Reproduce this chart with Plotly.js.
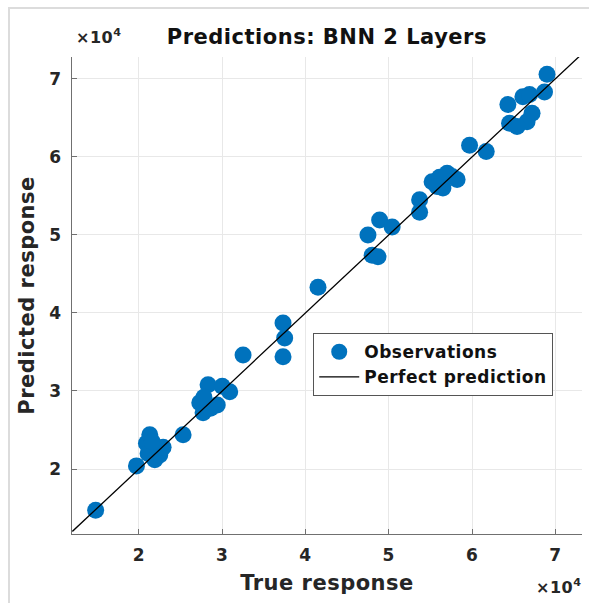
<!DOCTYPE html>
<html>
<head>
<meta charset="utf-8">
<script src="https://cdn.plot.ly/plotly-3.0.1.min.js"></script>
<style>
  html, body { margin: 0; padding: 0; background: #fff; }
  #wrap { position: relative; width: 589px; height: 603px; }
  #frame { position: absolute; left: 8px; top: 7px; width: 581px; height: 596px;
           border-top: 2px solid #dcdcdc; border-left: 2px solid #dcdcdc; box-sizing: border-box; pointer-events: none; z-index: 5; }
  #chart { position: absolute; left: 0; top: 0; width: 589px; height: 603px; }
  svg text { letter-spacing: 0.5px; }
</style>
</head>
<body>
<div id="wrap">
  <div id="chart"></div>
  <div id="frame"></div>
</div>
<script>
// Values in units of the response (axes show ×10^4)
const trueResponse = [
  14800, 19700, 20900, 21300, 21100, 21900, 22500, 22900, 21600, 25300,
  27300, 27700, 28300, 29400, 30000, 30900, 28600, 27800, 32500, 37300,
  37500, 37300, 41500, 47500, 48900, 50400, 48000, 48700, 53700, 53700,
  55200, 56100, 57000, 56500, 58200, 57600, 59700, 61700, 64500, 64300,
  66100, 66900, 67200, 66600, 65400, 69000, 68700, 55800
];
const predictedResponse = [
  14700, 20400, 23300, 24400, 22000, 21200, 21800, 22800, 23500, 24400,
  28500, 27200, 30800, 28200, 30600, 29900, 27800, 29200, 34600, 38700,
  36800, 34400, 43300, 50000, 51900, 51000, 47400, 47200, 54500, 52900,
  56800, 57400, 57900, 56000, 57100, 57500, 61500, 60700, 64300, 66700,
  67700, 68000, 65600, 64500, 63900, 70600, 68300, 56200
];
const perfectLine = [12000, 73200];
const tickValues = [20000, 30000, 40000, 50000, 60000, 70000];
const tickLabels = ['2', '3', '4', '5', '6', '7'];

const fontFam = '"DejaVu Sans", "Liberation Sans", Arial, sans-serif';
const textColor = '#262626';

const traces = [
  {
    x: trueResponse, y: predictedResponse,
    type: 'scatter', mode: 'markers', name: 'Observations',
    marker: { color: '#0072BD', size: 17, line: { width: 0 } }
  },
  {
    x: perfectLine, y: perfectLine,
    type: 'scatter', mode: 'lines', name: 'Perfect prediction',
    line: { color: '#000000', width: 1.3 }
  }
];

const axisCommon = {
  tickvals: tickValues, ticktext: tickLabels,
  showgrid: true, gridcolor: '#e8e8e8', gridwidth: 1,
  zeroline: false, showline: true, linecolor: '#707070', linewidth: 1,
  ticks: 'inside', ticklen: 5, tickcolor: '#707070',
  tickfont: { family: fontFam, size: 17, color: textColor, weight: 'bold' },
  mirror: false
};

const layout = {
  width: 589, height: 603,
  margin: { l: 72, r: 7, t: 57, b: 69 },
  paper_bgcolor: '#ffffff', plot_bgcolor: '#ffffff',
  showlegend: true,
  title: {
    text: '<b>Predictions: BNN 2 Layers</b>',
    font: { family: fontFam, size: 21, color: '#111' },
    xref: 'container', x: 0.555, xanchor: 'center',
    yref: 'container', y: 1 - 37 / 603, yanchor: 'middle'
  },
  xaxis: Object.assign({}, axisCommon, {
    range: [11960, 73200],
    ticklabelstandoff: 6,
    title: { text: '<b>True response</b>', font: { family: fontFam, size: 21, color: textColor }, standoff: 10 }
  }),
  yaxis: Object.assign({}, axisCommon, {
    range: [11670, 72800],
    ticklabelstandoff: 6,
    title: { text: '<b>Predicted response</b>', font: { family: fontFam, size: 21, color: textColor }, standoff: 8 }
  }),
  legend: {
    x: 0.473, y: 0.421, xanchor: 'left', yanchor: 'top',
    bgcolor: '#ffffff', bordercolor: '#555', borderwidth: 1,
    font: { family: fontFam, size: 17, color: '#111', weight: 'bold' },
    tracegroupgap: 0, itemwidth: 40
  },
  annotations: [
    { text: '<b>×10<sup>4</sup></b>', xref: 'paper', yref: 'paper', x: 0.003, y: 1.042,
      xanchor: 'left', yanchor: 'middle', showarrow: false,
      font: { family: fontFam, size: 16, color: textColor } },
    { text: '<b>×10<sup>4</sup></b>', xref: 'paper', yref: 'paper', x: 1.002, y: -0.111,
      xanchor: 'right', yanchor: 'middle', showarrow: false,
      font: { family: fontFam, size: 16, color: textColor } }
  ]
};

Plotly.newPlot('chart', traces, layout, { displayModeBar: false, staticPlot: true });
</script>
</body>
</html>
